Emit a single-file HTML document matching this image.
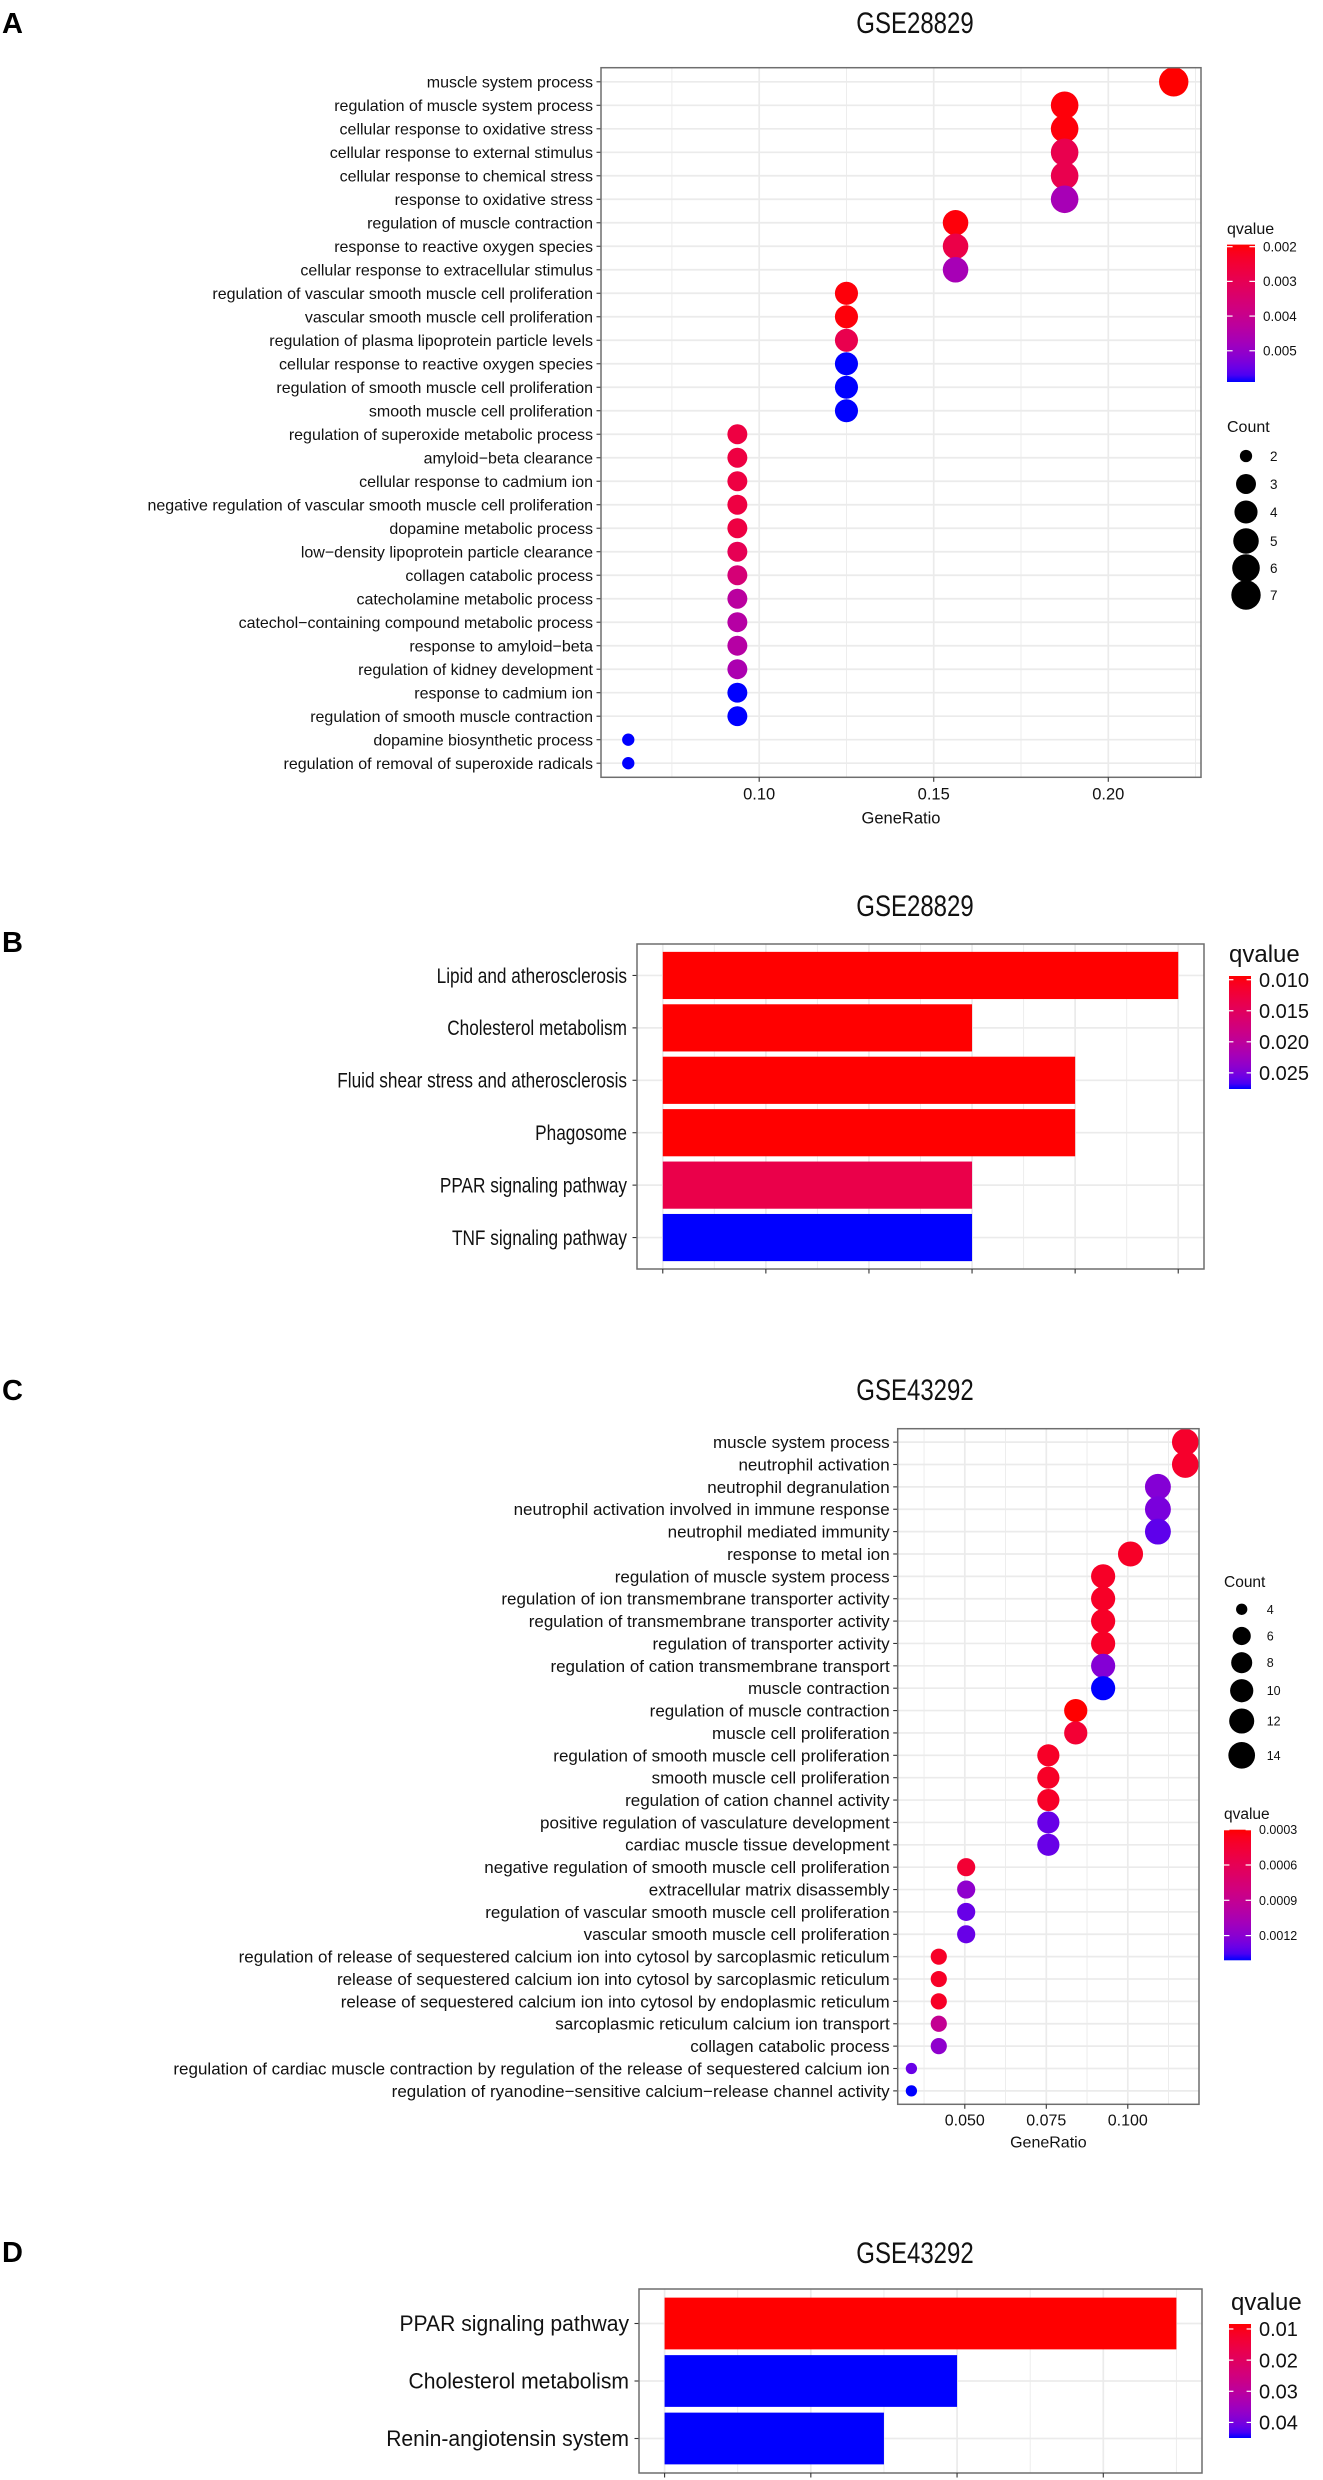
<!DOCTYPE html>
<html><head><meta charset="utf-8"><style>
html,body{margin:0;padding:0;background:#fff;}
svg{display:block;font-family:"Liberation Sans",Arial,sans-serif;}
</style></head><body>
<svg id="fig" xmlns="http://www.w3.org/2000/svg" width="1323" height="2480" viewBox="0 0 1323 2480">
<rect x="0" y="0" width="1323" height="2480" fill="#fff"/>
<defs id="defs"></defs>
</svg>
<script>
// ---------- Panel A data (GSE28829 GO dot plot) ----------
const aTerms=["muscle system process","regulation of muscle system process","cellular response to oxidative stress","cellular response to external stimulus","cellular response to chemical stress","response to oxidative stress","regulation of muscle contraction","response to reactive oxygen species","cellular response to extracellular stimulus","regulation of vascular smooth muscle cell proliferation","vascular smooth muscle cell proliferation","regulation of plasma lipoprotein particle levels","cellular response to reactive oxygen species","regulation of smooth muscle cell proliferation","smooth muscle cell proliferation","regulation of superoxide metabolic process","amyloid\u2212beta clearance","cellular response to cadmium ion","negative regulation of vascular smooth muscle cell proliferation","dopamine metabolic process","low\u2212density lipoprotein particle clearance","collagen catabolic process","catecholamine metabolic process","catechol\u2212containing compound metabolic process","response to amyloid\u2212beta","regulation of kidney development","response to cadmium ion","regulation of smooth muscle contraction","dopamine biosynthetic process","regulation of removal of superoxide radicals"];
const aCounts=[7,6,6,6,6,6,5,5,5,4,4,4,4,4,4,3,3,3,3,3,3,3,3,3,3,3,3,3,2,2];
const aDenom=32;
const aQ=[0.00194,0.002,0.002,0.0029,0.0029,0.0047,0.002,0.0028,0.0047,0.002,0.002,0.0029,0.0059,0.0059,0.0059,0.0027,0.0027,0.0027,0.0027,0.0027,0.0030,0.0036,0.0043,0.0044,0.0044,0.0046,0.0059,0.0059,0.0059,0.0059];
const aTicks=[0.10,0.15,0.20];
const aTickLabels=["0.10","0.15","0.20"];
const aQBreaks=[0.002,0.003,0.004,0.005];
const aQLabels=["0.002","0.003","0.004","0.005"];
const aSizeBreaks=[2,3,4,5,6,7];

// ---------- Panel B data (GSE28829 KEGG bars) ----------
const bTerms=["Lipid and atherosclerosis","Cholesterol metabolism","Fluid shear stress and atherosclerosis","Phagosome","PPAR signaling pathway","TNF signaling pathway"];
const bCounts=[5,3,4,4,3,3];
const bQ=[0.0094,0.0094,0.0094,0.0094,0.0135,0.0276];
const bQBreaks=[0.010,0.015,0.020,0.025];
const bQLabels=["0.010","0.015","0.020","0.025"];

// ---------- Panel C data (GSE43292 GO dot plot) ----------
const cTerms=["muscle system process","neutrophil activation","neutrophil degranulation","neutrophil activation involved in immune response","neutrophil mediated immunity","response to metal ion","regulation of muscle system process","regulation of ion transmembrane transporter activity","regulation of transmembrane transporter activity","regulation of transporter activity","regulation of cation transmembrane transport","muscle contraction","regulation of muscle contraction","muscle cell proliferation","regulation of smooth muscle cell proliferation","smooth muscle cell proliferation","regulation of cation channel activity","positive regulation of vasculature development","cardiac muscle tissue development","negative regulation of smooth muscle cell proliferation","extracellular matrix disassembly","regulation of vascular smooth muscle cell proliferation","vascular smooth muscle cell proliferation","regulation of release of sequestered calcium ion into cytosol by sarcoplasmic reticulum","release of sequestered calcium ion into cytosol by sarcoplasmic reticulum","release of sequestered calcium ion into cytosol by endoplasmic reticulum","sarcoplasmic reticulum calcium ion transport","collagen catabolic process","regulation of cardiac muscle contraction by regulation of the release of sequestered calcium ion","regulation of ryanodine\u2212sensitive calcium\u2212release channel activity"];
const cCounts=[14,14,13,13,13,12,11,11,11,11,11,11,10,10,9,9,9,9,9,6,6,6,6,5,5,5,5,5,4,4];
const cDenom=119;
const cQ=[0.00042,0.00042,0.00122,0.00125,0.00132,0.0004,0.0004,0.0004,0.0004,0.0004,0.00122,0.00141,0.0003,0.00045,0.0004,0.0004,0.0004,0.0013,0.0013,0.00045,0.00118,0.0013,0.0013,0.0004,0.0004,0.0004,0.0009,0.00118,0.0013,0.00141];
const cTicks=[0.050,0.075,0.100];
const cTickLabels=["0.050","0.075","0.100"];
const cQBreaks=[0.0003,0.0006,0.0009,0.0012];
const cQLabels=["0.0003","0.0006","0.0009","0.0012"];
const cSizeBreaks=[4,6,8,10,12,14];

// ---------- Panel D data (GSE43292 KEGG bars) ----------
const dTerms=["PPAR signaling pathway","Cholesterol metabolism","Renin-angiotensin system"];
const dCounts=[7,4,3];
const dQ=[0.0084,0.045,0.045];
const dQBreaks=[0.01,0.02,0.03,0.04];
const dQLabels=["0.01","0.02","0.03","0.04"];

// ---------- helpers ----------
const NS='http://www.w3.org/2000/svg';
const svg=document.getElementById('fig');
const defs=document.getElementById('defs');
function mk(tag,attrs,parent){const e=document.createElementNS(NS,tag);for(const k in attrs)e.setAttribute(k,attrs[k]);(parent||svg).appendChild(e);return e;}
function txt(s,attrs,parent){const e=mk('text',attrs,parent);e.textContent=s;return e;}

function s2l(c){c/=255;return c<=0.04045?c/12.92:Math.pow((c+0.055)/1.055,2.4);}
function l2s(c){c=c<=0.0031308?12.92*c:1.055*Math.pow(c,1/2.4)-0.055;return Math.max(0,Math.min(255,Math.round(c*255)));}
function toLab(r,g,b){r=s2l(r);g=s2l(g);b=s2l(b);
 let X=(r*0.4124+g*0.3576+b*0.1805)/0.95047,Y=(r*0.2126+g*0.7152+b*0.0722),Z=(r*0.0193+g*0.1192+b*0.9505)/1.08883;
 const f=t=>t>0.008856?Math.cbrt(t):7.787*t+16/116;
 const fx=f(X),fy=f(Y),fz=f(Z);return[116*fy-16,500*(fx-fy),200*(fy-fz)];}
function fromLab(L,a,b){const fy=(L+16)/116,fx=fy+a/500,fz=fy-b/200;
 const fi=t=>t*t*t>0.008856?t*t*t:(t-16/116)/7.787;
 const X=fi(fx)*0.95047,Y=fi(fy),Z=fi(fz)*1.08883;
 const r=X*3.2406+Y*-1.5372+Z*-0.4986,g=X*-0.9689+Y*1.8758+Z*0.0415,bb=X*0.0557+Y*-0.2040+Z*1.0570;
 return 'rgb('+l2s(r)+','+l2s(g)+','+l2s(bb)+')';}
const LABR=toLab(255,0,0),LABB=toLab(0,0,255);
function grad(t){t=Math.max(0,Math.min(1,t));return fromLab(LABR[0]+(LABB[0]-LABR[0])*t,LABR[1]+(LABB[1]-LABR[1])*t,LABR[2]+(LABB[2]-LABR[2])*t);}

const GRID='#EBEBEB',BORDER='#6e6e6e',TICK='#333';

function qLegend(cfg){
 const qmin=Math.min(...cfg.q),qmax=Math.max(...cfg.q);
 const id='g'+cfg.name;
 const lg=mk('linearGradient',{id:id,x1:0,y1:0,x2:0,y2:1},defs);
 for(let i=0;i<=20;i++){mk('stop',{offset:(i/20),'stop-color':grad(i/20)},lg);}
 const t=txt('qvalue',{x:cfg.x,y:cfg.titleY,'font-size':cfg.titleSize,fill:'#111'});
 
 
 const bar=mk('rect',{x:cfg.x+cfg.barDx,y:cfg.top,width:cfg.barW,height:cfg.bot-cfg.top,fill:'url(#'+id+')'});
 
 
 const Yq=v=>cfg.top+(v-qmin)/(qmax-qmin)*(cfg.bot-cfg.top);
 cfg.breaks.forEach((b,i)=>{const y=Yq(b);
  mk('line',{x1:cfg.x+cfg.barDx,x2:cfg.x+cfg.barDx+cfg.barW*0.2,y1:y,y2:y,stroke:'#fff','stroke-width':1.2});
  mk('line',{x1:cfg.x+cfg.barDx+cfg.barW*0.8,x2:cfg.x+cfg.barDx+cfg.barW,y1:y,y2:y,stroke:'#fff','stroke-width':1.2});
  const l=txt(cfg.labels[i],{x:cfg.labelX,y:y,dy:'0.36em','font-size':cfg.labelSize,fill:'#111'});
  
  
 });
}

function dotPanel(p){
 const ratios=p.counts.map(c=>c/p.denom);
 const rmin=Math.min(...ratios),rmax=Math.max(...ratios),ex=(rmax-rmin)*0.05;
 const x0=rmin-ex,x1=rmax+ex,B=p.box;
 const X=v=>B.l+(v-x0)/(x1-x0)*(B.r-B.l);
 const n=p.terms.length,step=(B.b-B.t)/(n+0.2),Y=i=>B.t+step*(0.6+i);
 const qmin=Math.min(...p.q),qmax=Math.max(...p.q);
 const cmin=Math.min(...p.counts),cmax=Math.max(...p.counts);
 const D=c=>p.dmin+(p.dmax-p.dmin)*Math.sqrt((c-cmin)/(cmax-cmin));
 const bg=mk('rect',{x:B.l,y:B.t,width:B.r-B.l,height:B.b-B.t,fill:'#fff'});
 
 
 const ts=p.ticks[1]-p.ticks[0];
 for(let v=p.ticks[0]-ts*1.5;v<=x1;v+=ts){if(v>=x0){const x=X(v);mk('line',{x1:x,x2:x,y1:B.t,y2:B.b,stroke:GRID,'stroke-width':0.9});}}
 p.ticks.forEach(v=>{const x=X(v);mk('line',{x1:x,x2:x,y1:B.t,y2:B.b,stroke:GRID,'stroke-width':1.7});});
 for(let i=0;i<n;i++){const y=Y(i);mk('line',{x1:B.l,x2:B.r,y1:y,y2:y,stroke:GRID,'stroke-width':1.7});}
 for(let i=0;i<n;i++){
  const c=mk('circle',{cx:X(ratios[i]),cy:Y(i),r:D(p.counts[i])/2,fill:grad((p.q[i]-qmin)/(qmax-qmin))});
  
  
  const lab=txt(p.terms[i],{x:B.l-8,y:Y(i),dy:'0.35em','text-anchor':'end','font-size':p.labelSize,fill:'#111'});
  
  
  mk('line',{x1:B.l-4.5,x2:B.l,y1:Y(i),y2:Y(i),stroke:TICK,'stroke-width':1.1});
 }
 const bd=mk('rect',{x:B.l,y:B.t,width:B.r-B.l,height:B.b-B.t,fill:'none',stroke:BORDER,'stroke-width':1.5});
 
 
 p.ticks.forEach((v,i)=>{const x=X(v);
  mk('line',{x1:x,x2:x,y1:B.b,y2:B.b+4.5,stroke:TICK,'stroke-width':1.1});
  const t=txt(p.tickLabels[i],{x:x,y:B.b+p.tickDy,'text-anchor':'middle','font-size':p.tickSize,fill:'#111'});
  
  
 });
 const xt=txt('GeneRatio',{x:(B.l+B.r)/2,y:B.b+p.titleDy,'text-anchor':'middle','font-size':p.tickSize,fill:'#111'});
 
 
 const st=txt('Count',{x:p.sizeLeg.x,y:p.sizeLeg.titleY,'font-size':p.sizeLeg.titleSize,fill:'#111'});
 
 
 p.sizeBreaks.forEach((s,i)=>{const y=p.sizeLeg.ys[i];
  const c=mk('circle',{cx:p.sizeLeg.cx,cy:y,r:D(s)/2,fill:'#000'});
  
  
  const l=txt(String(s),{x:p.sizeLeg.lx,y:y,dy:'0.36em','font-size':p.sizeLeg.labelSize,fill:'#111'});
  
  
 });
 qLegend(Object.assign({q:p.q,name:p.name},p.qLeg));
}

function barPanel(p){
 const B=p.box,cmax=Math.max(...p.counts),ex=cmax*0.05;
 const X=v=>B.l+(v+ex)/(cmax+2*ex)*(B.r-B.l);
 const n=p.terms.length,step=(B.b-B.t)/(n+0.2),Y=i=>B.t+step*(0.6+i);
 const qmin=Math.min(...p.q),qmax=Math.max(...p.q);
 const bg=mk('rect',{x:B.l,y:B.t,width:B.r-B.l,height:B.b-B.t,fill:'#fff'});
 
 
 for(let v=p.major/2;v<=cmax+ex;v+=p.major){const x=X(v);mk('line',{x1:x,x2:x,y1:B.t,y2:B.b,stroke:GRID,'stroke-width':0.9});}
 for(let v=0;v<=cmax+ex;v+=p.major){const x=X(v);mk('line',{x1:x,x2:x,y1:B.t,y2:B.b,stroke:GRID,'stroke-width':1.7});}
 for(let i=0;i<n;i++){const y=Y(i);mk('line',{x1:B.l,x2:B.r,y1:y,y2:y,stroke:GRID,'stroke-width':1.7});}
 for(let i=0;i<n;i++){
  const h=step*0.9;
  const r=mk('rect',{x:X(0),y:Y(i)-h/2,width:X(p.counts[i])-X(0),height:h,fill:grad((p.q[i]-qmin)/(qmax-qmin))});
  
  
  const lx=B.l-10;
  const lab=txt(p.terms[i],{x:0,y:Y(i),dy:'0.35em','text-anchor':'end','font-size':p.labelSize,fill:'#111',transform:'translate('+lx+',0) scale('+p.labelScaleX+',1)'});
  
  
  mk('line',{x1:B.l-4.5,x2:B.l,y1:Y(i),y2:Y(i),stroke:TICK,'stroke-width':1.1});
 }
 const bd=mk('rect',{x:B.l,y:B.t,width:B.r-B.l,height:B.b-B.t,fill:'none',stroke:BORDER,'stroke-width':1.5});
 
 
 for(let v=0;v<=cmax+ex;v+=p.major){const x=X(v);mk('line',{x1:x,x2:x,y1:B.b,y2:B.b+4.5,stroke:TICK,'stroke-width':1.1});}
 qLegend(Object.assign({q:p.q,name:p.name},p.qLeg));
}

function heading(letter,title,ly,ty,name){
 const l=txt(letter,{x:2,y:ly,'font-size':29,'font-weight':'bold',fill:'#000'});
 
 
 const t=txt(title,{x:0,y:ty,'text-anchor':'middle','font-size':30,fill:'#111',transform:'translate(915,0) scale(0.8,1)'});
 
 
}

heading('A','GSE28829',33,33,'panel-a');
dotPanel({name:'panel-a',terms:aTerms,counts:aCounts,denom:aDenom,q:aQ,ticks:aTicks,tickLabels:aTickLabels,
 box:{l:601,t:67.7,r:1201,b:777.3},dmin:12.3,dmax:29.4,labelSize:16,tickSize:16.5,tickDy:22,titleDy:46,
 sizeBreaks:aSizeBreaks,
 sizeLeg:{x:1227,titleY:432,titleSize:16,cx:1246,lx:1270,labelSize:13.5,ys:[456,484,512,541,568,595]},
 qLeg:{x:1227,titleY:234,titleSize:16,barDx:0,barW:28,top:244.6,bot:382,labelX:1263,labelSize:13.5,breaks:aQBreaks,labels:aQLabels}});

heading('B','GSE28829',952,916,'panel-b');
barPanel({name:'panel-b',terms:bTerms,counts:bCounts,q:bQ,major:1,box:{l:637,t:944,r:1204,b:1269},labelSize:21,labelScaleX:0.82,
 qLeg:{x:1229,titleY:962,titleSize:24,barDx:0,barW:22,top:976,bot:1089,labelX:1259,labelSize:20,breaks:bQBreaks,labels:bQLabels}});

heading('C','GSE43292',1400,1400,'panel-c');
dotPanel({name:'panel-c',terms:cTerms,counts:cCounts,denom:cDenom,q:cQ,ticks:cTicks,tickLabels:cTickLabels,
 box:{l:897.7,t:1428.7,r:1199,b:2104.3},dmin:11.3,dmax:26.7,labelSize:17,tickSize:16,tickDy:21,titleDy:43,
 sizeBreaks:cSizeBreaks,
 sizeLeg:{x:1224,titleY:1587,titleSize:15.5,cx:1241.7,lx:1266.7,labelSize:12.5,ys:[1609.3,1636,1662.7,1690.7,1721,1755.3]},
 qLeg:{x:1224,titleY:1819,titleSize:15.5,barDx:0,barW:27,top:1829.7,bot:1960.3,labelX:1259,labelSize:12.5,breaks:cQBreaks,labels:cQLabels}});

heading('D','GSE43292',2262,2263,'panel-d');
barPanel({name:'panel-d',terms:dTerms,counts:dCounts,q:dQ,major:2,box:{l:639,t:2289,r:1202,b:2473},labelSize:22,labelScaleX:0.96,
 qLeg:{x:1231,titleY:2310,titleSize:24,barDx:-2,barW:22,top:2324,bot:2438,labelX:1259,labelSize:20,breaks:dQBreaks,labels:dQLabels}});
</script>
</body></html>
